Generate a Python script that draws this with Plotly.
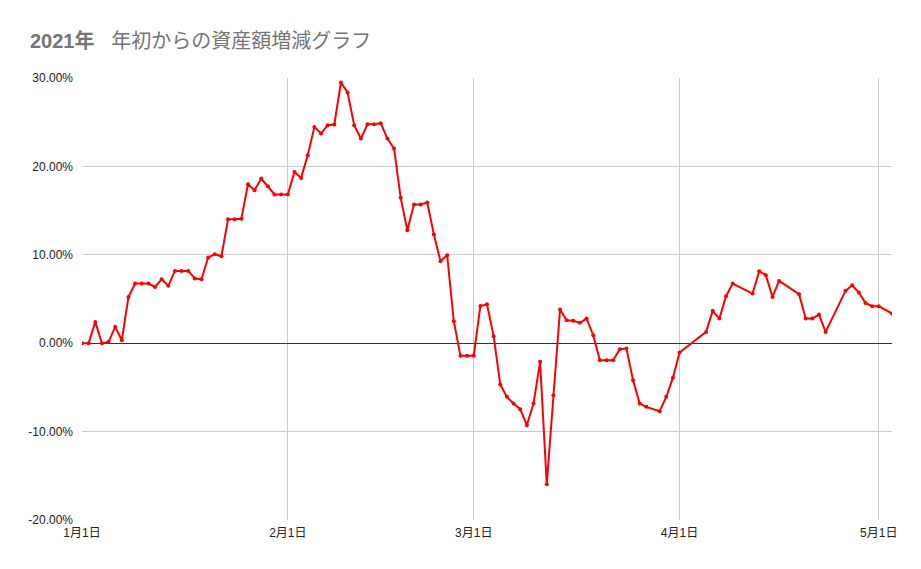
import plotly.graph_objects as go

# 日付 (2021年)
dates = (
    [f"2021-01-{d:02d}" for d in range(1, 32)]
    + [f"2021-02-{d:02d}" for d in range(1, 29)]
    + [f"2021-03-{d:02d}" for d in range(1, 28)]
    + ["2021-03-29", "2021-03-30", "2021-03-31"]
    + ["2021-04-01", "2021-04-05", "2021-04-06", "2021-04-07", "2021-04-08",
       "2021-04-09", "2021-04-12", "2021-04-13", "2021-04-14", "2021-04-15",
       "2021-04-16", "2021-04-19", "2021-04-20", "2021-04-21", "2021-04-22",
       "2021-04-23", "2021-04-26", "2021-04-27", "2021-04-28", "2021-04-29",
       "2021-04-30", "2021-05-01", "2021-05-03"]
)

# 年初からの増減率 (%)
jan = [0.0, 0.0, 2.41, 0.0, 0.15, 1.85, 0.34, 5.24, 6.75, 6.75,
       6.75, 6.37, 7.24, 6.49, 8.18, 8.18, 8.18, 7.32, 7.24, 9.69,
       10.07, 9.84, 14.03, 14.03, 14.07, 17.99, 17.31, 18.63, 17.76, 16.82,
       16.82]
feb = [16.82, 19.38, 18.7, 21.27, 24.47, 23.72, 24.66, 24.74, 29.49, 28.36,
       24.66, 23.15, 24.77, 24.77, 24.89, 23.15, 22.02, 16.44, 12.78, 15.69,
       15.69, 15.92, 12.3, 9.28, 9.95, 2.49, -1.43, -1.43]
mar = [-1.43, 4.2, 4.41, 0.79, -4.68, -6.07, -6.83, -7.47, -9.28, -6.83,
       -2.11, -15.95, -5.88, 3.81, 2.6, 2.53, 2.3, 2.79, 0.9, -1.92,
       -1.92, -1.92, -0.68, -0.6, -4.19, -6.83, -7.2, -7.69, -6.07, -3.92]
apr_may = [-1.06, 1.28, 3.66, 2.79, 5.32, 6.75, 5.62, 8.14, 7.69, 5.24,
           7.05, 5.54, 2.79, 2.79, 3.24, 1.28, 5.92, 6.56, 5.73, 4.56,
           4.19, 4.19, 3.36]
values = jan + feb + mar + apr_may

tick_dates = ["2021-01-01", "2021-02-01", "2021-03-01", "2021-04-01", "2021-05-01"]
tick_labels = ["1月1日", "2月1日", "3月1日", "4月1日", "5月1日"]
y_ticks = [-20, -10, 0, 10, 20, 30]
y_labels = ["-20.00%", "-10.00%", "0.00%", "10.00%", "20.00%", "30.00%"]

font_jp = "Liberation Sans, Noto Sans CJK JP, sans-serif"

fig = go.Figure()
fig.add_trace(go.Scatter(
    x=dates,
    y=values,
    mode="lines+markers",
    line=dict(color="#ff0000", width=2),
    marker=dict(color="#ff0000", size=4),
    showlegend=False,
))

fig.update_layout(
    width=921,
    height=569,
    paper_bgcolor="white",
    plot_bgcolor="white",
    margin=dict(l=82, r=29, t=78, b=49),
    title=dict(
        text="<b>2021年</b>   年初からの資産額増減グラフ",
        x=30 / 921, xref="container", xanchor="left",
        y=1 - 41 / 569, yref="container", yanchor="middle",
        font=dict(family=font_jp, size=20, color="#757575"),
    ),
    xaxis=dict(
        type="date",
        range=["2021-01-01", "2021-05-03"],
        tickvals=tick_dates,
        ticktext=tick_labels,
        showgrid=True,
        gridcolor="#cccccc",
        gridwidth=1,
        showline=False,
        zeroline=False,
        ticks="",
        ticklabelstandoff=4,
        tickfont=dict(family=font_jp, size=12, color="#222222"),
    ),
    yaxis=dict(
        range=[-20, 30],
        tickvals=y_ticks,
        ticktext=y_labels,
        showgrid=True,
        gridcolor="#cccccc",
        gridwidth=1,
        zeroline=True,
        zerolinecolor="#333333",
        zerolinewidth=1,
        showline=False,
        ticks="",
        ticklabelstandoff=8,
        tickfont=dict(family="Liberation Sans, Arial, sans-serif", size=12, color="#222222"),
    ),
)

# ページ余白をなくして 921x569 にぴったり合わせる
fig.write_html("out.html", config={"displayModeBar": False},
               post_script="document.body.style.margin='0';")
